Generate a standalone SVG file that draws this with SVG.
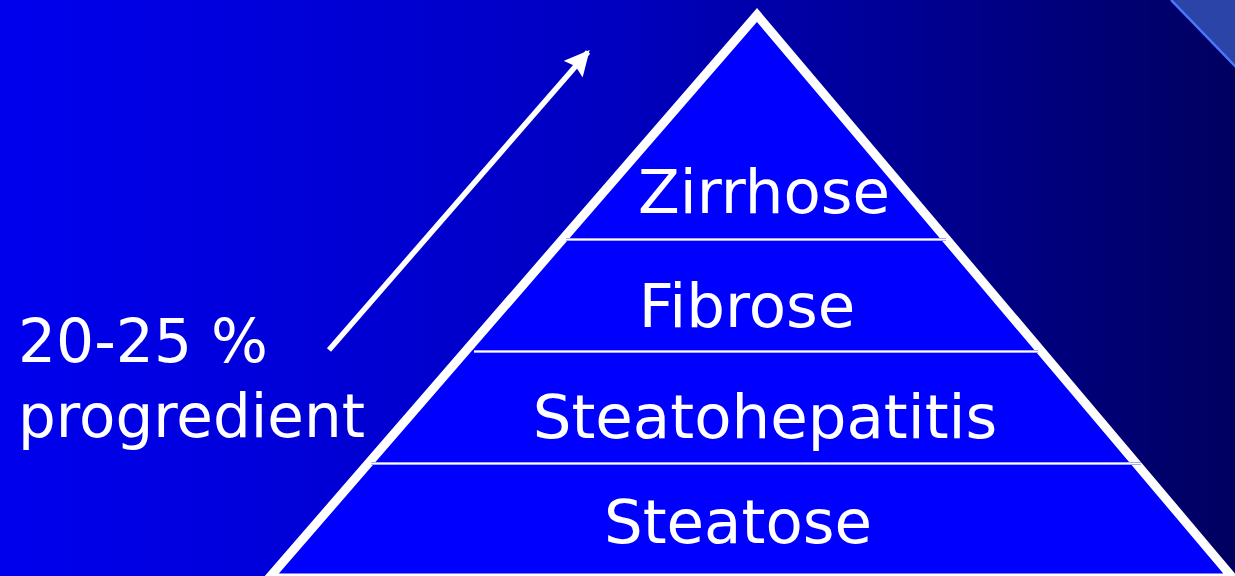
<svg xmlns="http://www.w3.org/2000/svg" width="1235" height="576" viewBox="0 0 1235 576">
  <defs>
    <linearGradient id="bg" x1="0" y1="0" x2="1235" y2="0" gradientUnits="userSpaceOnUse">
      <stop offset="0" stop-color="#0000ee"/>
      <stop offset="0.5" stop-color="#0000c0"/>
      <stop offset="1" stop-color="#000060"/>
    </linearGradient>
    <marker id="ah" viewBox="0 0 10 10" refX="9" refY="5" markerWidth="4.6" markerHeight="4.6" orient="auto" markerUnits="strokeWidth">
      <path d="M0,0 L10,5 L0,10 L1.5,5 Z" fill="#ffffff"/>
    </marker>
    <style>
      .lbl { font-family: "DejaVu Sans", "Liberation Sans", sans-serif; font-size: 61px; fill: #ffffff; }
      .div1 { stroke: #a8a8ff; stroke-width: 3; fill: none; }
      .div2 { stroke: #ffffff; stroke-width: 1.2; fill: none; }
    </style>
  </defs>
  <rect x="0" y="0" width="1235" height="576" fill="url(#bg)"/>
  <g id="corner">
    <polygon points="1171,0 1235,0 1235,66" fill="#2a44a8"/>
    <line x1="1171" y1="0" x2="1236" y2="67" stroke="#4a78ff" stroke-width="2.5"/>
  </g>
  <g id="pyramid">
    <polygon points="757,15 269,578 1233,578" fill="#0000ff" stroke="#ffffff" stroke-width="9" stroke-linejoin="miter"/>
  </g>
  <g id="connectors">
    <line class="div1" x1="566" y1="239.5" x2="946" y2="239.5"/>
    <line class="div2" x1="566" y1="239.5" x2="946" y2="239.5"/>
    <line class="div1" x1="474" y1="351.5" x2="1038" y2="351.5"/>
    <line class="div2" x1="474" y1="351.5" x2="1038" y2="351.5"/>
    <line class="div1" x1="371" y1="463.5" x2="1141" y2="463.5"/>
    <line class="div2" x1="371" y1="463.5" x2="1141" y2="463.5"/>
    <line x1="329" y1="350" x2="588" y2="52" stroke="#ffffff" stroke-width="5.5" marker-end="url(#ah)"/>
  </g>
  <g id="zirrhose"><text class="lbl" x="764" y="213" text-anchor="middle">Zirrhose</text></g>
  <g id="fibrose"><text class="lbl" x="747" y="327" text-anchor="middle">Fibrose</text></g>
  <g id="steatohepatitis"><text class="lbl" x="765" y="438" text-anchor="middle">Steatohepatitis</text></g>
  <g id="steatose"><text class="lbl" x="738" y="543" text-anchor="middle">Steatose</text></g>
  <g id="progress-label">
    <text class="lbl" x="18" y="362" textLength="250" lengthAdjust="spacingAndGlyphs">20-25 %</text>
    <text class="lbl" x="18" y="437" textLength="347" lengthAdjust="spacingAndGlyphs">progredient</text>
  </g>
</svg>
